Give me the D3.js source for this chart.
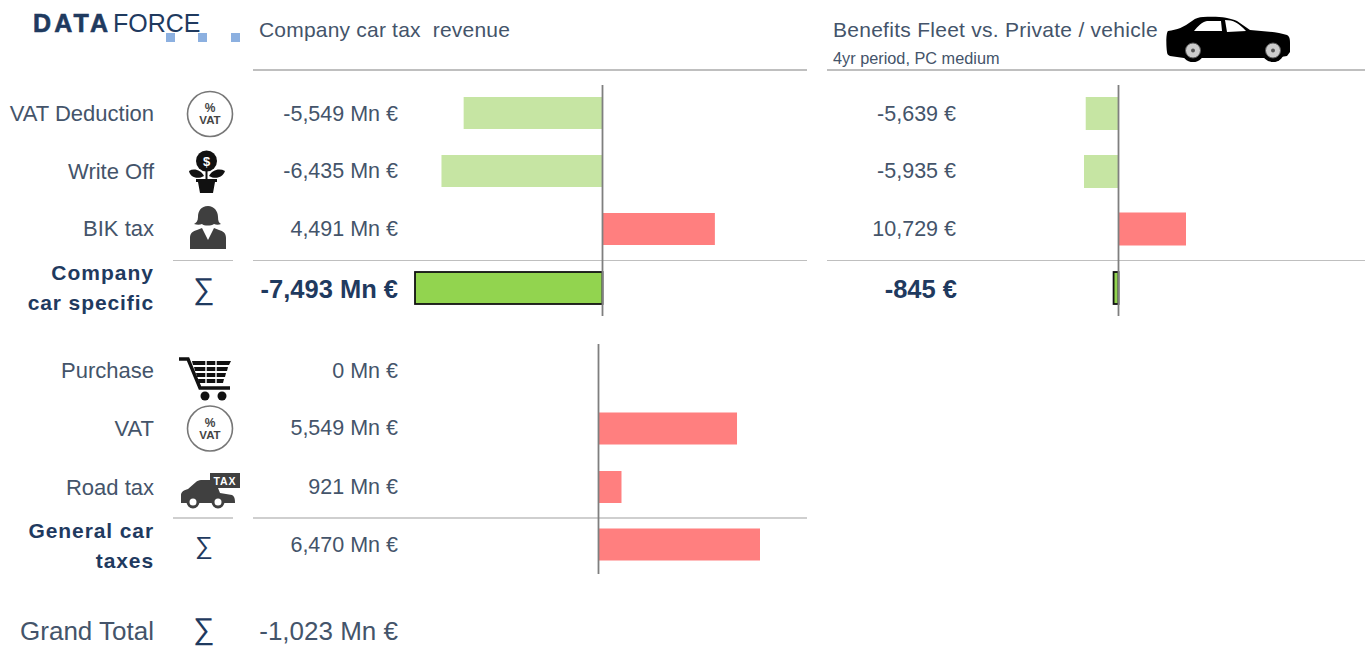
<!DOCTYPE html>
<html>
<head>
<meta charset="utf-8">
<script src="https://cdn.jsdelivr.net/npm/d3@7"></script>
<style>
  html, body { margin: 0; padding: 0; background: #fff; overflow: hidden; }
  text { font-family: "Liberation Sans", Arial, sans-serif; white-space: pre; }
</style>
</head>
<body>
<script>
// Company car specific block
const specificLabels = ["VAT Deduction", "Write Off", "BIK tax"];
const specificRevenue = [-5549, -6435, 4491];
const specificRevenueTotal = -7493;
const specificBenefit = [-5639, -5935, 10729];
const specificBenefitTotal = -845;

// General car taxes block
const generalLabels = ["Purchase", "VAT", "Road tax"];
const generalRevenue = [0, 5549, 921];
const generalRevenueTotal = 6470;

const grandTotal = -1023;

const rowY = [113.5, 171, 228.5];
const rowY2 = [370.5, 428, 487];

const colors = { text: "#44546a", dark: "#1f3a5f", rule: "#bfbfbf", axis: "#7f7f7f",
                 lightGreen: "#c6e5a3", green: "#92d44f", red: "#ff7f7f" };

const svg = d3.select("body").append("svg")
    .attr("width", 1369)
    .attr("height", 646);

const fmt = d3.format(",");
const mn = v => fmt(v).replace("−", "-") + " Mn €";
const eur = v => fmt(v).replace("−", "-") + " €";

const xTop = d3.scaleLinear().domain([-7493, 0]).range([415, 602.5]);
const xBottom = d3.scaleLinear().domain([0, 6470]).range([598.5, 760]);
const xBenefit = d3.scaleLinear().domain([-5935, 0, 10729]).range([1084, 1118.5, 1186]);

function label(x, y, str, size, opts = {}) {
  return svg.append("text")
      .attr("x", x).attr("y", y)
      .attr("text-anchor", opts.anchor || "end")
      .attr("dominant-baseline", "central")
      .style("font-size", size + "px")
      .style("font-weight", opts.bold ? "700" : "400")
      .style("letter-spacing", (opts.spacing || 0) + "px")
      .style("fill", opts.fill || colors.text)
      .text(str);
}

function rule(x1, x2, y, w = 1) {
  svg.append("line").attr("x1", x1).attr("x2", x2).attr("y1", y).attr("y2", y)
      .attr("stroke", colors.rule).attr("stroke-width", w);
}

function axisLine(x, y1, y2) {
  svg.append("line").attr("x1", x).attr("x2", x).attr("y1", y1).attr("y2", y2)
      .attr("stroke", colors.axis).attr("stroke-width", 1.8);
}

function bars(values, ys, scale, h) {
  svg.append("g").selectAll("rect")
    .data(values)
    .join("rect")
      .attr("x", d => Math.min(scale(d), scale(0)))
      .attr("width", d => Math.abs(scale(d) - scale(0)))
      .attr("y", (d, i) => ys[i] - h / 2)
      .attr("height", h)
      .attr("fill", d => d < 0 ? colors.lightGreen : colors.red);
}

// Logo
label(33, 23, "DATA", 25, { anchor: "start", bold: true, spacing: 3.1, fill: colors.dark })
    .attr("stroke", colors.dark).attr("stroke-width", 0.6);
label(113, 23, "FORCE", 25, { anchor: "start", fill: colors.dark });
svg.append("g").selectAll("rect")
  .data([166, 198, 231])
  .join("rect")
    .attr("x", d => d).attr("y", 33).attr("width", 9).attr("height", 9)
    .attr("fill", "#8cb0e0");

// Headers
label(259, 29, "Company car tax  revenue", 21, { anchor: "start", spacing: 0.2 });
label(833, 29, "Benefits Fleet vs. Private / vehicle", 21, { anchor: "start", spacing: 0.27 });
label(833, 58, "4yr period, PC medium", 16.3, { anchor: "start" });

rule(253, 807, 70, 2);
rule(827, 1365, 70, 2);
rule(173, 233, 260.5);
rule(253, 807, 260.5);
rule(827, 1365, 260.5);
rule(173, 233, 518, 1.6);
rule(253, 807, 518, 1.6);

// Row labels and values
specificLabels.forEach((d, i) => label(154, rowY[i], d, 22));
specificRevenue.forEach((d, i) => label(398, rowY[i], mn(d), 21.5));
specificBenefit.forEach((d, i) => label(956, rowY[i], eur(d), 21.5));
generalLabels.forEach((d, i) => label(154, rowY2[i], d, 22));
generalRevenue.forEach((d, i) => label(398, rowY2[i], mn(d), 21.5));

label(154, 272.5, "Company", 21, { bold: true, spacing: 1, fill: colors.dark });
label(154, 302.5, "car specific", 21, { bold: true, spacing: 0.9, fill: colors.dark });
label(398, 288.5, mn(specificRevenueTotal), 25.5, { bold: true, fill: colors.dark });
label(957, 288.5, eur(specificBenefitTotal), 25.5, { bold: true, fill: colors.dark });

label(154, 530.5, "General car", 21, { bold: true, spacing: 0.9, fill: colors.dark });
label(154, 560.5, "taxes", 21, { bold: true, spacing: 0.9, fill: colors.dark });
label(398, 545, mn(generalRevenueTotal), 21.5);

label(154, 631, "Grand Total", 26);
label(398, 631, mn(grandTotal), 26);

// Sigma signs
[[204, 288, 30], [204, 545, 25], [204, 628, 30]].forEach(([x, y, s]) => {
  label(x, y, "∑", s, { anchor: "middle", fill: colors.dark });
});

// Bars
bars(specificRevenue, [113, 171, 229], xTop, 32);
bars(generalRevenue.concat(generalRevenueTotal), [371, 428.5, 487, 544.5], xBottom, 32);
bars(specificBenefit, [113.5, 171.5, 229], xBenefit, 33);

// Total bars with black outline
[[xTop, specificRevenueTotal], [xBenefit, specificBenefitTotal]].forEach(([scale, v]) => {
  svg.append("rect")
      .attr("x", scale(v)).attr("width", scale(0) - scale(v))
      .attr("y", 272).attr("height", 32)
      .attr("fill", colors.green).attr("stroke", "#111").attr("stroke-width", 1.8);
});

axisLine(602.5, 85, 316);
axisLine(1118.5, 85, 316);
axisLine(598.5, 344, 574);

// Icons
function vatIcon(cx, cy) {
  const g = svg.append("g");
  g.append("circle").attr("cx", cx).attr("cy", cy).attr("r", 22.5)
      .attr("fill", "#fff").attr("stroke", "#777").attr("stroke-width", 1.6);
  g.append("text").attr("x", cx).attr("y", cy - 6).attr("text-anchor", "middle")
      .attr("dominant-baseline", "central").style("font-size", "12px").style("font-weight", "700")
      .style("fill", "#444").text("%");
  g.append("text").attr("x", cx).attr("y", cy + 6).attr("text-anchor", "middle")
      .attr("dominant-baseline", "central").style("font-size", "11.5px").style("font-weight", "700")
      .style("fill", "#444").text("VAT");
}
vatIcon(210, 114);
vatIcon(210, 428.5);

// Money plant
const plant = svg.append("g").attr("fill", "#111");
plant.append("circle").attr("cx", 206.5).attr("cy", 161).attr("r", 10.5);
plant.append("text").attr("x", 206.5).attr("y", 161.5).attr("text-anchor", "middle")
    .attr("dominant-baseline", "central").style("font-size", "13px").style("font-weight", "700")
    .style("fill", "#fff").text("$");
plant.append("path").attr("d", "M205.5 171v9h2v-9z");
plant.append("path").attr("d", "M204 176c-3-6-10-8-15-5 1 6 8 9 15 5z");
plant.append("path").attr("d", "M209 176c3-6 10-8 16-5-2 6-9 9-16 5z");
plant.append("path").attr("d", "M196 179h21v3h-2l-2 11h-13l-2-11h-2z");

// Woman
const woman = svg.append("g").attr("fill", "#3f3f3f");
woman.append("path").attr("d", "M208 206c-7 0-10 5-10 11 0 4-2 6-4 7 3 1 6 1 8 0 2 2 9 2 12 0 2 1 5 1 7 0-2-1-3-3-3-7 0-6-4-11-10-11z");
woman.append("path").attr("d", "M190 249v-11c0-5 3-7 7-8l5-2 6 12 6-12 5 2c4 1 7 3 7 8v11z");

// Cart
const cart = svg.append("g");
cart.append("path").attr("d", "M179 359h9l12 29h30").attr("fill", "none").attr("stroke", "#111").attr("stroke-width", 3.4);
cart.append("path").attr("d", "M192 361h39l-2 4h-36zM194 367h34l-1 4h-32zM196 373h30l-1 4h-28zM198 379h26l-1 4h-24z").attr("fill", "#111");
cart.selectAll("line").data([206, 216]).join("line")
    .attr("x1", d => d).attr("x2", d => d).attr("y1", 360).attr("y2", 384)
    .attr("stroke", "#fff").attr("stroke-width", 1.4);
cart.append("circle").attr("cx", 205).attr("cy", 396).attr("r", 4.5).attr("fill", "#111");
cart.append("circle").attr("cx", 222).attr("cy", 396).attr("r", 4.5).attr("fill", "#111");

// Tax car
const taxi = svg.append("g");
taxi.append("path").attr("fill", "#404040").attr("d", "M181 503v-8c0-3 3-5 7-6l8-7c1-1 3-2 5-2h9v8h8l2 5 12 2c2 1 3 3 3 8z");
taxi.append("rect").attr("x", 210).attr("y", 473).attr("width", 30).attr("height", 15).attr("fill", "#404040");
taxi.append("text").attr("x", 225).attr("y", 481).attr("text-anchor", "middle").attr("dominant-baseline", "central")
    .style("font-size", "10.5px").style("font-weight", "700").style("letter-spacing", "1px").style("fill", "#fff").text("TAX");
[193, 218].forEach(cx => {
  taxi.append("circle").attr("cx", cx).attr("cy", 502).attr("r", 5).attr("fill", "#fff").attr("stroke", "#404040").attr("stroke-width", 3);
});

// Car silhouette
const car = svg.append("g");
car.append("path").attr("fill", "#000")
    .attr("d", "M1168 31c9-1 16-4 24-10 4-3 7-4 11-4 13-1 26 0 34 4l13 9c13 1 27 2 37 5 2 1 3 3 3 8v9l-3 4-13 2h-90l-14-2c-2-1-3-2-3-4-1-7-1-19 1-21z");
car.append("path").attr("fill", "#fff").attr("d", "M1194 31c4-5 8-9 13-10h14l1 10zM1225 20c8 0 14 3 21 11l-19 1z");
[1193, 1273].forEach(cx => {
  car.append("circle").attr("cx", cx).attr("cy", 50.5).attr("r", 11.5).attr("fill", "#000");
  car.append("circle").attr("cx", cx).attr("cy", 50.5).attr("r", 7.5).attr("fill", "#ccc").attr("stroke", "#555").attr("stroke-width", 1);
  car.append("circle").attr("cx", cx).attr("cy", 50.5).attr("r", 2).attr("fill", "#555");
});
</script>
</body>
</html>
